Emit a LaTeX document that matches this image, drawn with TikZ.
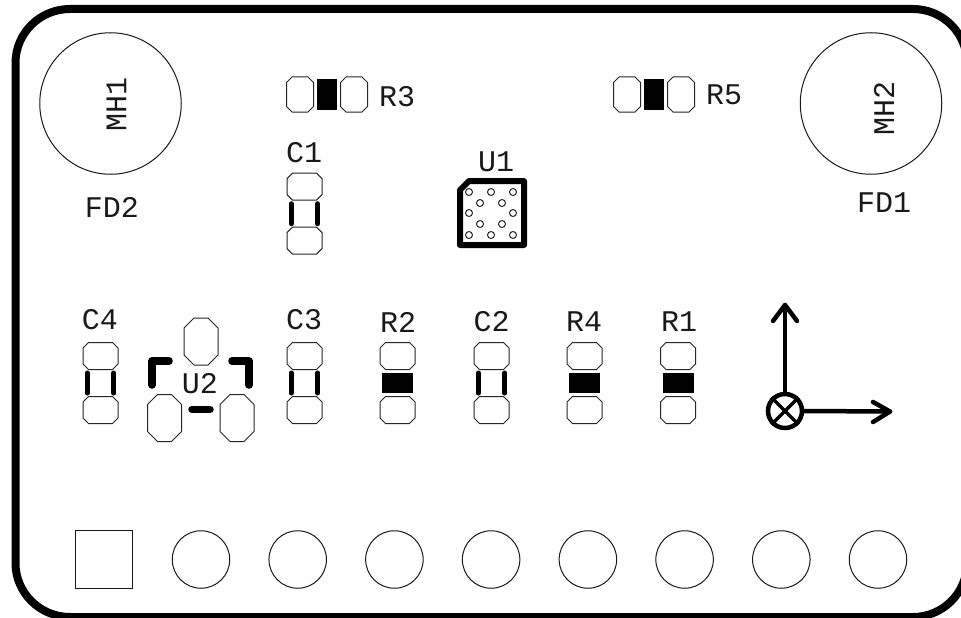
\documentclass[tikz,border=0pt]{standalone}
\usepackage{fontspec}
\setmainfont{Liberation Mono}
\tikzset{
 x=1pt,y=-1pt,
 pad/.style={line width=1pt,draw=black!85,fill=white},
 hole/.style={circle,draw=black!90,line width=1pt,inner sep=0pt,minimum size=57.5pt},
 mount/.style={circle,draw=black!90,line width=1pt,inner sep=0pt,minimum size=141.5pt},
 silk/.style={line width=5pt,line cap=round,black},
 silkb/.style={line width=7.5pt,line cap=round,line join=round,black},
 ref/.style={font=\fontsize{30pt}{30pt}\selectfont,inner sep=0pt,text=black!90},
 axis/.style={line width=4.5pt,line cap=round,line join=round,black},
 via/.style={circle,draw=black!85,line width=1pt,inner sep=0pt,minimum size=7pt}
}
\newcommand{\octpad}[5]{\draw[pad] ({#1-#3+#5},{#2-#4}) -- ({#1+#3-#5},{#2-#4}) -- ({#1+#3},{#2-#4+#5}) -- ({#1+#3},{#2+#4-#5}) -- ({#1+#3-#5},{#2+#4}) -- ({#1-#3+#5},{#2+#4}) -- ({#1-#3},{#2+#4-#5}) -- ({#1-#3},{#2-#4+#5}) -- cycle;}
\newcommand{\capv}[2]{%
 \octpad{#1}{#2-27}{17.5}{13.5}{5.5}
 \octpad{#1}{#2+27}{17.5}{13.5}{5.5}
 \draw[silk] ({#1-13.3},{#2-10}) -- ({#1-13.3},{#2+10});
 \draw[silk] ({#1+13.3},{#2-10}) -- ({#1+13.3},{#2+10});}
\newcommand{\resv}[2]{%
 \octpad{#1}{#2-27}{17.5}{13.5}{5.5}
 \octpad{#1}{#2+27}{17.5}{13.5}{5.5}
 \fill[black] ({#1-15.5},{#2-10}) rectangle ({#1+15.5},{#2+10});}
\newcommand{\resh}[2]{%
 \octpad{#1-27}{#2}{13.5}{17.5}{5.5}
 \octpad{#1+27}{#2}{13.5}{17.5}{5.5}
 \fill[black] ({#1-10},{#2-15.5}) rectangle ({#1+10},{#2+15.5});}
\begin{document}
\begin{tikzpicture}
\useasboundingbox (0,0) rectangle (961,618);
\clip (0,0) rectangle (961,618);
\draw[line width=8pt,black] (15.5,63) arc[start angle=180,end angle=90,x radius=54.5,y radius=-54] -- (913,9) arc[start angle=90,end angle=0,x radius=54,y radius=-54] -- (967,563) arc[start angle=0,end angle=-90,x radius=54,y radius=-54] -- (70,617) arc[start angle=-90,end angle=-180,x radius=54.5,y radius=-54] -- cycle;
\node[mount] (mh1) at (110.5,103.5) {};
\node[mount] (mh2) at (871,103.5) {};
\node[ref,rotate=90] (mh1t) at (116.5,104) {MH1};
\node[ref,rotate=90] (mh2t) at (884,108) {MH2};
\node[ref] (fd2) at (112,207) {FD2};
\node[ref] (fd1) at (884,203) {FD1};
\resh{327}{94.5}
\node[ref,anchor=west] (r3) at (379,97) {R3};
\resh{654}{94.5}
\node[ref,anchor=west] (r5) at (706,95) {R5};
\node[ref] (c1) at (304,153) {C1};
\capv{304.5}{213.7}
\node[ref] (u1) at (496,162) {U1};
\draw[line width=6pt,line join=round,black] (469,181) -- (524,181) -- (524,245) -- (460,245) -- (460,190) -- cycle;
\foreach \n/\a/\b in {a/469/192,b/491/192,c/513/192,d/480/203,e/502/203,f/469/213,g/513/213,h/480/224,i/502/224,j/469/235,k/491/235,l/513/235}
  \node[via] (v\n) at (\a,\b) {};
\node[ref] (c4) at (100,320) {C4};
\capv{100.5}{383}
\octpad{201}{341.5}{17}{23.5}{10}
\octpad{164.5}{418}{17}{23.5}{10}
\octpad{237}{418}{17}{23.5}{10}
\draw[silkb] (152,385) -- (152,361) -- (169,361);
\draw[silkb] (249,385) -- (249,361) -- (232,361);
\draw[silkb] (192,409.5) -- (210,409.5);
\node[ref] (u2) at (200,384) {U2};
\node[ref] (c3) at (304,320) {C3};
\capv{304.5}{383}
\node[ref] (r2) at (398,322) {R2};
\resv{397.5}{383}
\node[ref] (c2) at (491.5,322) {C2};
\capv{491.5}{383}
\node[ref] (r4) at (584,322) {R4};
\resv{584.5}{383}
\node[ref] (r1) at (679,322) {R1};
\resv{678}{383}
\node[circle,draw=black,line width=4.5pt,inner sep=0pt,minimum size=34pt] (o) at (785,411) {};
\draw[line width=3.5pt,black] (o.45) -- (o.225) (o.135) -- (o.315);
\coordinate (yt) at (785,305);
\coordinate (xt) at (890,411.5);
\draw[axis] (o.north) -- (yt);
\draw[axis] (o.east) -- (xt);
\draw[axis] (773,321) -- (yt) -- (797,321);
\draw[axis] (873,402) -- (xt) -- (873,422);
\node[draw=black!90,line width=1pt,inner sep=0pt,minimum size=57.5pt] (p1) at (104,559.5) {};
\foreach \n/\a in {2/201,3/297.7,4/394.4,5/491.1,6/587.9,7/684.6,8/781.3,9/878}
  \node[hole] (p\n) at (\a,559.5) {};
\end{tikzpicture}
\end{document}
